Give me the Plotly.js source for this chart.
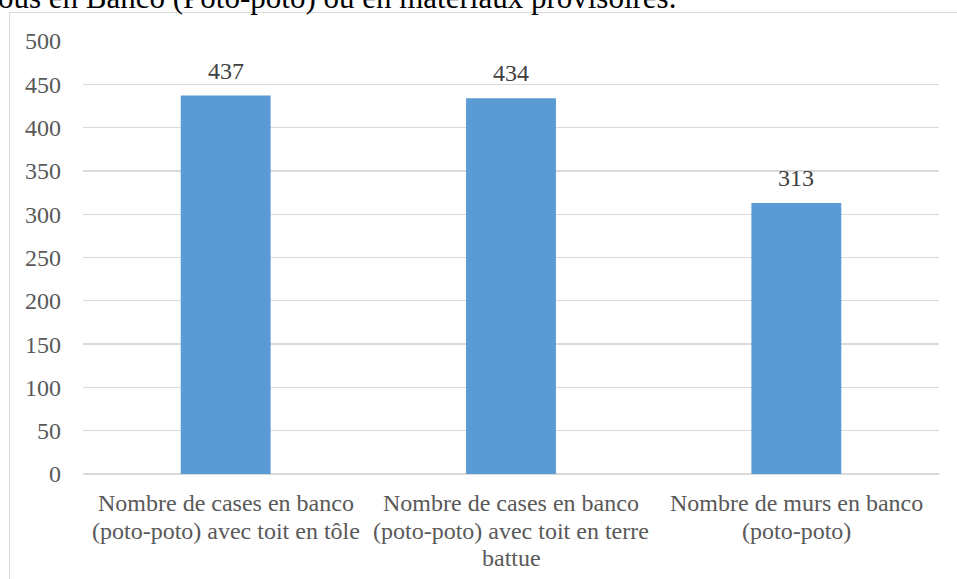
<!DOCTYPE html>
<html>
<head>
<meta charset="utf-8">
<script src="https://cdn.plot.ly/plotly-3.0.1.min.js"></script>
<style>
  html, body { margin: 0; padding: 0; background: #ffffff; }
  #chart { width: 957px; height: 579px; }
</style>
</head>
<body>
<div id="chart"></div>
<script>
const categories = [
  "Nombre de cases en banco<br>(poto-poto) avec toit en tôle",
  "Nombre de cases en banco<br>(poto-poto) avec toit en terre<br>battue",
  "Nombre de murs en banco<br>(poto-poto)"
];
const values = [437, 434, 313];
const valueLabels = ["437", "434", "313"];
const headerText = "ous en Banco (Poto-poto) ou en matériaux provisoires.";

const W = 957, H = 579;
const margin = {l: 83, r: 18, t: 41, b: 105};
const pw = W - margin.l - margin.r, ph = H - margin.t - margin.b;
const px = v => (v - margin.l) / pw;
const py = v => (H - margin.b - v) / ph;

const serif = "Times New Roman, Liberation Serif, serif";
const labelSize = 24;
const lineStep = 27.5;
const firstLineOffset = 29;

const trace = {
  type: 'bar',
  x: categories,
  y: values,
  marker: {color: '#5b9bd5'},
  hoverinfo: 'none'
};

const annotations = categories.map((c, i) => ({
  x: c, y: values[i], xref: 'x', yref: 'y',
  text: valueLabels[i], showarrow: false,
  yanchor: 'bottom', yshift: 10,
  font: {family: serif, size: labelSize, color: '#404040'}
}));

// category labels, one annotation per line for Excel-like line spacing
categories.forEach(c => {
  c.split('<br>').forEach((line, k) => {
    annotations.push({
      x: c, y: 0, xref: 'x', yref: 'y',
      text: line, showarrow: false,
      yanchor: 'middle', yshift: -(firstLineOffset + k * lineStep),
      font: {family: serif, size: labelSize, color: '#595959'}
    });
  });
});

annotations.push({
  xref: 'paper', yref: 'paper',
  x: px(-4), y: py(7),
  xanchor: 'left', yanchor: 'bottom',
  yshift: -10,
  text: headerText, showarrow: false,
  font: {family: serif, size: 31, color: '#000000'}
});

const layout = {
  width: W, height: H,
  margin: margin,
  paper_bgcolor: '#ffffff',
  plot_bgcolor: '#ffffff',
  showlegend: false,
  bargap: 0.685,
  font: {family: serif, size: labelSize, color: '#595959'},
  xaxis: {
    type: 'category',
    showgrid: false,
    showline: false,
    zeroline: false,
    ticks: '',
    showticklabels: false,
    fixedrange: true
  },
  yaxis: {
    range: [0, 500],
    dtick: 50,
    tick0: 0,
    showgrid: true,
    gridcolor: '#d9d9d9',
    gridwidth: 1.3,
    zeroline: true,
    zerolinecolor: '#d9d9d9',
    zerolinewidth: 1.5,
    showline: false,
    ticks: '',
    ticklabelstandoff: 21,
    tickfont: {family: serif, size: labelSize, color: '#595959'},
    fixedrange: true
  },
  shapes: [{
    type: 'rect', xref: 'paper', yref: 'paper',
    x0: px(9.5), x1: px(970), y0: py(12.5), y1: py(600),
    line: {color: '#d9d9d9', width: 1},
    fillcolor: 'rgba(0,0,0,0)',
    layer: 'below'
  }],
  annotations: annotations
};

Plotly.newPlot('chart', [trace], layout, {displayModeBar: false, staticPlot: true});
</script>
</body>
</html>
